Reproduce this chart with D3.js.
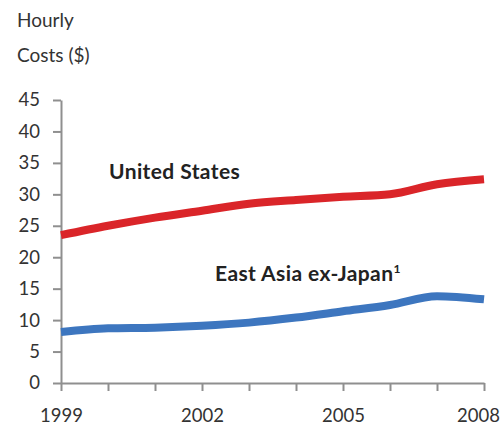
<!DOCTYPE html>
<html>
<head>
<meta charset="utf-8">
<script src="https://cdn.jsdelivr.net/npm/d3@7"></script>
<style>
  html, body { margin: 0; padding: 0; background: #fff; overflow: hidden; }
  svg { display: block; font-family: Lato, "Open Sans", sans-serif; }
</style>
</head>
<body>
<svg id="chart" width="501" height="428"></svg>
<script>
// Hourly labour costs, 1999-2008
const years = [1999, 2000, 2001, 2002, 2003, 2004, 2005, 2006, 2007, 2008];
const unitedStates = [23.5, 25.0, 26.3, 27.4, 28.5, 29.1, 29.6, 30.0, 31.6, 32.4];
const eastAsiaExJapan = [8.1, 8.7, 8.8, 9.1, 9.6, 10.4, 11.4, 12.4, 13.8, 13.3];
const yTicks = [0, 5, 10, 15, 20, 25, 30, 35, 40, 45];
const xLabels = [1999, 2002, 2005, 2008];
const seriesNames = ["United States", "East Asia ex-Japan"];
const yTitle = ["Hourly", "Costs ($)"];

const svg = d3.select("#chart");
const width = +svg.attr("width");

const x = d3.scaleLinear().domain([1999, 2008]).range([61, 484]);
const y = d3.scaleLinear().domain([0, 45]).range([383, 100]);

const axisColor = "#8f8f8f";
const textColor = "#333";

// Y axis
const yAxis = svg.append("g")
  .attr("transform", `translate(${x.range()[0]},0)`)
  .call(d3.axisLeft(y).tickValues(yTicks).tickSize(8).tickPadding(13).tickSizeOuter(0));

// X axis
const xAxis = svg.append("g")
  .attr("transform", `translate(0,${y(0)})`)
  .call(d3.axisBottom(x).tickValues(years).tickSize(8).tickPadding(18).tickSizeOuter(0)
    .tickFormat(d => xLabels.includes(d) ? String(d) : ""));

[yAxis, xAxis].forEach(g => {
  g.select(".domain").attr("stroke", axisColor).attr("stroke-width", 2);
  g.selectAll(".tick line").attr("stroke", axisColor).attr("stroke-width", 2);
  g.selectAll(".tick text").attr("fill", textColor).style("font-size", "18.5px")
    .style("font-family", "Lato, 'Open Sans', sans-serif");
});

// keep the last year label inside the drawing area
xAxis.selectAll(".tick text").each(function () {
  const box = this.getBBox();
  const tx = +d3.select(this.parentNode).attr("transform").match(/translate\(([-\d.]+)/)[1];
  const overflow = tx + box.x + box.width - (width - 1);
  if (overflow > 0) d3.select(this).attr("x", -overflow);
});

// Y axis title
svg.append("g").selectAll("text")
  .data(yTitle)
  .join("text")
  .attr("x", 17)
  .attr("y", (d, i) => 27 + i * 35)
  .attr("fill", textColor)
  .style("font-size", "19px")
  .text(d => d);

// Series lines
const line = d3.line()
  .x((d, i) => x(years[i]))
  .y(d => y(d))
  .curve(d3.curveMonotoneX);

const series = [
  { name: seriesNames[0], values: unitedStates, color: "#da2529" },
  { name: seriesNames[1], values: eastAsiaExJapan, color: "#3d76bf" }
];

svg.append("g").selectAll("path")
  .data(series)
  .join("path")
  .attr("d", d => line(d.values))
  .attr("fill", "none")
  .attr("stroke", d => d.color)
  .attr("stroke-width", 8)
  .attr("stroke-linejoin", "round");

// Series labels
svg.append("text")
  .attr("x", 109)
  .attr("y", 179)
  .attr("fill", "#222")
  .style("font-size", "21px")
  .style("font-weight", "bold")
  .style("letter-spacing", "0.4px")
  .text(seriesNames[0]);

const ea = svg.append("text")
  .attr("x", 215)
  .attr("y", 281)
  .attr("fill", "#222")
  .style("font-size", "21px")
  .style("font-weight", "bold")
  .style("letter-spacing", "0.4px");
ea.append("tspan").text(seriesNames[1]);
ea.append("tspan")
  .attr("dy", -8)
  .style("font-size", "12px")
  .text("1");
</script>
</body>
</html>
